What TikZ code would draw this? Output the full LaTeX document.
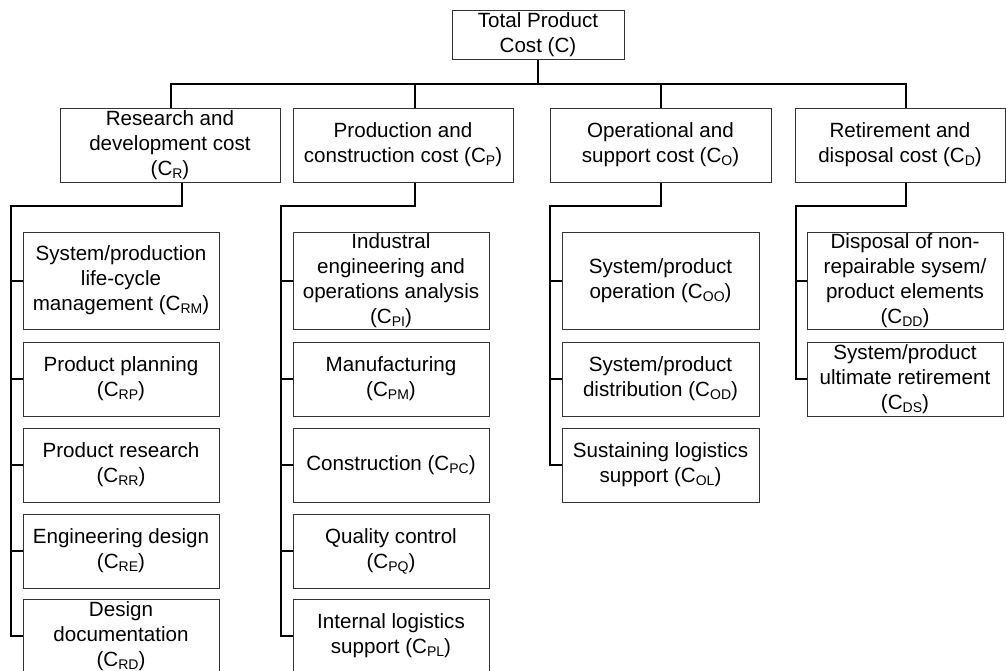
\documentclass[tikz,border=0pt]{standalone}
\usepackage{fontspec}
\setmainfont{Liberation Sans}
\newcommand\sbx[1]{\raisebox{-3pt}{\fontsize{14}{14}\selectfont #1}}
\tikzset{
  box/.style={draw=black!80, line width=1pt, inner sep=0pt, align=center,
    font=\fontsize{20.6}{25}\selectfont, text=black},
  conn/.style={draw=black, line width=2pt},
}
\begin{document}
\begin{tikzpicture}[x=1pt,y=-1pt]
\clip (0,0) rectangle (1006,670);
% top
\node[box, minimum width=172pt, minimum height=49pt] (T) at (538,34.5) {Total Product\\Cost (C)};
% level 1
\tikzset{l1/.style={box, minimum height=74pt}}
\node[l1, minimum width=220pt] (R) at (170,145) {Research and\\development cost\\(C\sbx{R})};
\node[l1, minimum width=220pt] (P) at (403,145) {Production and\\construction cost (C\sbx{P})};
\node[l1, minimum width=221pt] (O) at (660.5,145) {Operational and\\support cost (C\sbx{O})};
\node[l1, minimum width=210pt] (D) at (900,145) {Retirement and\\disposal cost (C\sbx{D})};
% level 2
\tikzset{tall/.style={box, minimum width=196pt, minimum height=97pt},
         short/.style={box, minimum width=196pt, minimum height=74pt}}
\node[tall]  (R1) at (121,280.5) {System/production\\life-cycle\\management (C\sbx{RM})};
\node[short] (R2) at (121,379) {Product planning\\(C\sbx{RP})};
\node[short] (R3) at (121,465) {Product research\\(C\sbx{RR})};
\node[short] (R4) at (121,551) {Engineering design\\(C\sbx{RE})};
\node[short] (R5) at (121,636) {Design\\documentation\\(C\sbx{RD})};
\node[tall]  (P1) at (391,280.5) {Industral\\engineering and\\operations analysis\\(C\sbx{PI})};
\node[short] (P2) at (391,379) {Manufacturing\\(C\sbx{PM})};
\node[short] (P3) at (391,465) {Construction (C\sbx{PC})};
\node[short] (P4) at (391,551) {Quality control\\(C\sbx{PQ})};
\node[short] (P5) at (391,636) {Internal logistics\\support (C\sbx{PL})};
\node[tall, minimum width=197pt]  (O1) at (660.5,280.5) {System/product\\operation (C\sbx{OO})};
\node[short, minimum width=197pt] (O2) at (660.5,379) {System/product\\distribution (C\sbx{OD})};
\node[short, minimum width=197pt] (O3) at (660.5,465) {Sustaining logistics\\support (C\sbx{OL})};
\node[tall]  (D1) at (905,280.5) {Disposal of non-\\repairable sysem/\\product elements\\(C\sbx{DD})};
\node[short] (D2) at (905,379) {System/product\\ultimate retirement\\(C\sbx{DS})};
% bus coordinates
\coordinate (bus) at (0,84);
\coordinate (Rbus) at (11,206);
\coordinate (Pbus) at (281,206);
\coordinate (Obus) at (550,206);
\coordinate (Dbus) at (796,206);
% top connectors
\draw[conn] (T.south) -- (T.south |- bus);
\draw[conn] ([xshift=1pt]R.north) |- ([xshift=6pt]D.north |- bus) -- ([xshift=6pt]D.north);
\draw[conn] ([xshift=12pt]P.north) -- ([xshift=12pt]P.north |- bus);
\draw[conn] ([xshift=0.5pt]O.north) -- ([xshift=0.5pt]O.north |- bus);
% R column
\draw[conn] ([xshift=12pt]R.south) |- (Rbus) -- (Rbus |- R5.west) -- (R5.west);
\foreach \i in {1,...,4} \draw[conn] (Rbus |- R\i.west) -- (R\i.west);
% P column
\draw[conn] ([xshift=12pt]P.south) |- (Pbus) -- (Pbus |- P5.west) -- (P5.west);
\foreach \i in {1,...,4} \draw[conn] (Pbus |- P\i.west) -- (P\i.west);
% O column
\draw[conn] ([xshift=0.5pt]O.south) |- (Obus) -- (Obus |- O3.west) -- (O3.west);
\foreach \i in {1,2} \draw[conn] (Obus |- O\i.west) -- (O\i.west);
% D column
\draw[conn] ([xshift=6pt]D.south) |- (Dbus) -- (Dbus |- D2.west) -- (D2.west);
\draw[conn] (Dbus |- D1.west) -- (D1.west);
\end{tikzpicture}
\end{document}
